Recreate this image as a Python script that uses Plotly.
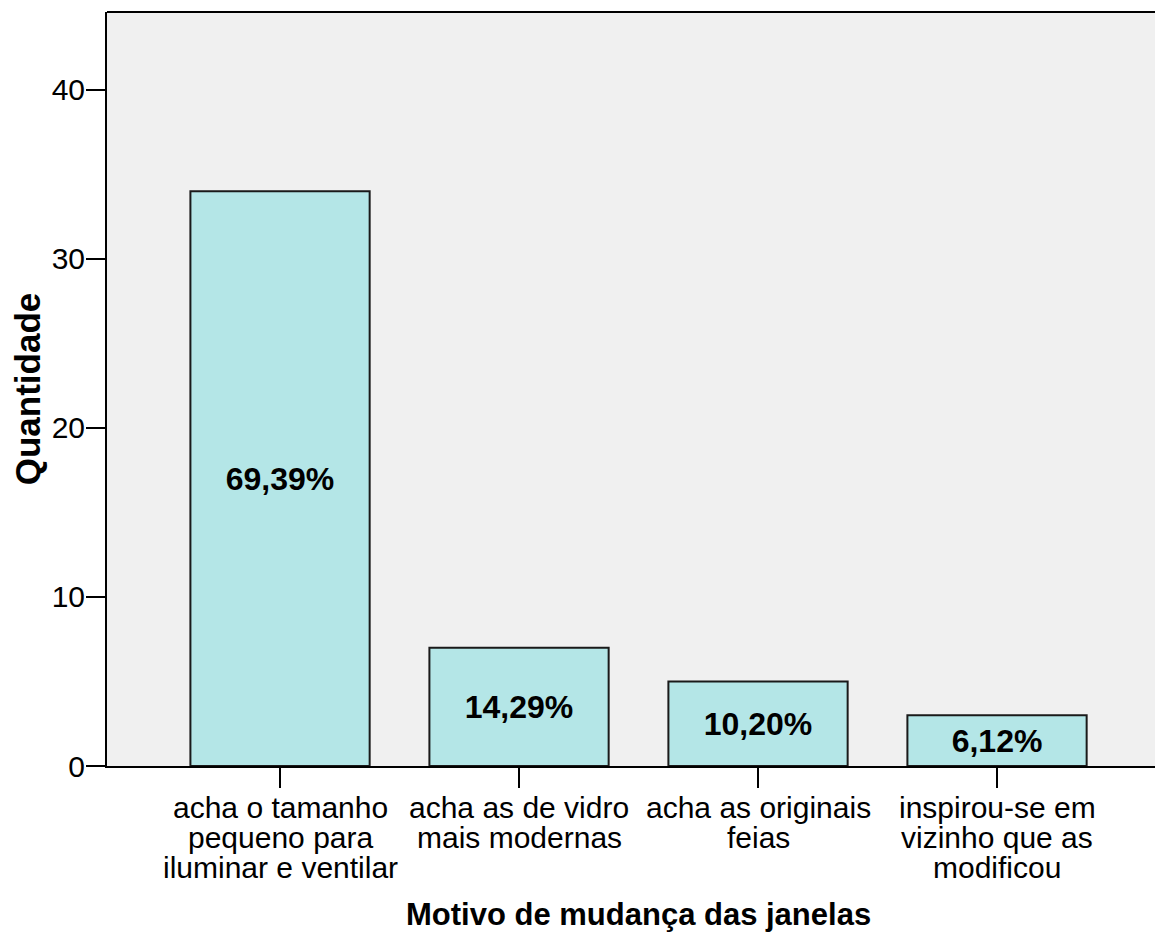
'''
Bar chart: Motivo de mudança das janelas (counts with percentage labels).
'''

import plotly.graph_objects as go

categories = [
    'acha o tamanho<br>pequeno para<br>iluminar e ventilar',
    'acha as de vidro<br>mais modernas',
    'acha as originais<br>feias',
    'inspirou-se em<br>vizinho que as<br>modificou',
]
counts = [34, 7, 5, 3]
y_ticks = [0, 10, 20, 30, 40]


def main() -> None:
    total = sum(counts)
    labels = [f'{c / total * 100:.2f}%'.replace('.', ',') for c in counts]
    font_family = 'Arial, Liberation Sans, sans-serif'
    positions = list(range(len(categories)))

    fig = go.Figure()
    fig.add_trace(go.Bar(
        x=positions,
        y=counts,
        width=0.75,
        text=labels,
        textposition='inside',
        insidetextanchor='middle',
        textangle=0,
        textfont={'size': 32, 'color': 'black', 'family': font_family,
                  'weight': 'bold'},
        marker={'color': '#b4e6e7',
                'line': {'color': '#1a1a1a', 'width': 2}},
        showlegend=False,
        hoverinfo='skip',
    ))

    fig.update_xaxes(
        range=[-0.724, 3.661],
        tickmode='array',
        tickvals=positions,
        showticklabels=False,
        ticks='outside',
        ticklen=20,
        tickwidth=2,
        tickcolor='black',
        showline=True,
        linecolor='black',
        linewidth=2,
        showgrid=False,
        zeroline=False,
    )
    fig.update_yaxes(
        range=[0, 44.6],
        tickmode='array',
        tickvals=y_ticks,
        tickfont={'size': 30, 'color': 'black', 'family': font_family},
        ticks='outside',
        ticklen=19,
        tickwidth=2,
        tickcolor='black',
        ticklabelstandoff=-5,
        showline=True,
        linecolor='black',
        linewidth=2,
        showgrid=False,
        zeroline=False,
        title={'text': '<b>Quantidade</b>',
               'font': {'size': 35, 'color': 'black', 'family': font_family},
               'standoff': 0},
    )

    # Category labels, one annotation per line to keep the tight line spacing
    for pos, cat in zip(positions, categories):
        for i, line in enumerate(cat.split('<br>')):
            fig.add_annotation(
                x=pos, xref='x', y=0, yref='paper',
                yshift=-41 - 30 * i, yanchor='middle',
                text=line, showarrow=False,
                font={'size': 30, 'color': 'black', 'family': font_family},
            )

    # X axis title
    fig.add_annotation(
        x=0.5076, xref='paper', y=0, yref='paper',
        yshift=-148, yanchor='middle',
        text='<b>Motivo de mudança das janelas</b>', showarrow=False,
        font={'size': 31, 'color': 'black', 'family': font_family},
    )

    # Top border of the plot area
    fig.add_shape(type='line', xref='paper', yref='paper',
                  x0=0, x1=1, y0=1, y1=1,
                  line={'color': 'black', 'width': 2})

    fig.update_layout(
        width=1155,
        height=942,
        margin={'l': 107, 'r': 0, 't': 12, 'b': 176},
        plot_bgcolor='#f0f0f0',
        paper_bgcolor='white',
        font={'family': font_family},
    )

    # Drop the page's default body margin so the figure fills the window
    fig.write_html(
        'out.html',
        config={'displayModeBar': False},
        post_script="document.body.style.margin='0';"
                    "document.body.style.overflow='hidden';",
    )


if __name__ == '__main__':
    main()
